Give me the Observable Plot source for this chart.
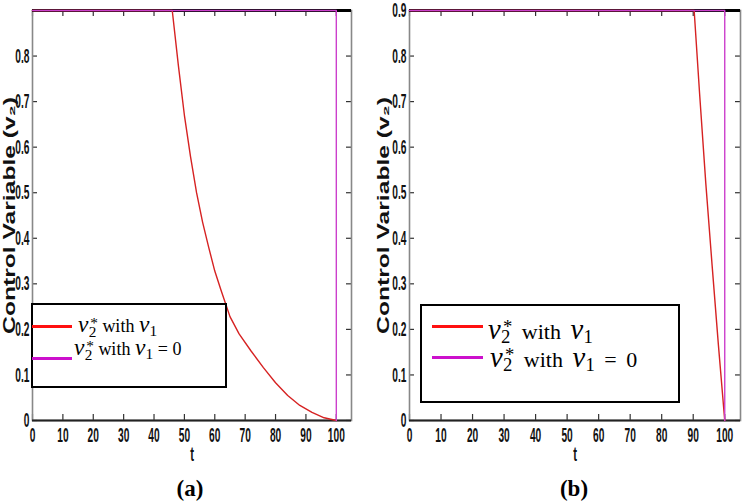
<!DOCTYPE html>
<html><head><meta charset="utf-8">
<script src="https://cdn.jsdelivr.net/npm/d3@7"></script>
<script src="https://cdn.jsdelivr.net/npm/@observablehq/plot@0.6"></script>
<style>
html,body{margin:0;padding:0;background:#fff;}
#root{position:relative;width:743px;height:502px;overflow:hidden;background:#fff;}
.panel{position:absolute;top:0;}
.legend{position:absolute;border:2px solid #000;box-sizing:border-box;background:#fff;font-family:"Liberation Serif","Times New Roman",serif;color:#000;}
.swatch{position:absolute;height:3px;}
.ltext{position:absolute;white-space:nowrap;line-height:1;}
.mv{font-style:italic;font-size:1.3em;line-height:0;}
.ss{display:inline-block;position:relative;width:0.62em;height:1em;font-size:0.85em;}
.ss .up{position:absolute;left:0.12em;top:-0.1em;line-height:1;}
.ss .dn{position:absolute;left:0.02em;top:0.46em;line-height:1;}
.lo{font-size:0.85em;vertical-align:-0.25em;line-height:0;margin-left:0.02em;}
.cap{position:absolute;font-family:"Liberation Serif","Times New Roman",serif;font-weight:bold;font-size:23px;line-height:23px;text-align:center;width:100px;}
</style></head>
<body><div id="root"></div>
<script>
// ---- data ----
const xTicks = [0, 10, 20, 30, 40, 50, 60, 70, 80, 90, 100];
const yTicksA = [0, 0.1, 0.2, 0.3, 0.4, 0.5, 0.6, 0.7, 0.8];
const yTicksB = [0, 0.1, 0.2, 0.3, 0.4, 0.5, 0.6, 0.7, 0.8, 0.9];
const xDomain = [0, 105];
const yDomain = [0, 0.9];
const seriesNames = ["v₂* with v₁", "v₂* with v₁ = 0"];
const xLabel = "t";
const yLabel = "Control Variable (v₂)";
const panelLabels = ["(a)", "(b)"];

// panel (a)
const tRedA = [0, 46, 48, 50, 52, 54, 56, 58, 60, 62, 65, 68, 72, 76, 80, 84, 88, 92, 96, 100];
const vRedA = [0.9, 0.9, 0.78, 0.67, 0.58, 0.50, 0.435, 0.38, 0.328, 0.287, 0.228, 0.19, 0.152, 0.116, 0.083, 0.055, 0.033, 0.018, 0.006, 0];
const tMagA = [0, 100, 100];
const vMagA = [0.9, 0.9, 0];
// panel (b)
const tRedB = [0, 90.3, 92, 94, 96, 98, 100];
const vRedB = [0.9, 0.9, 0.72, 0.52, 0.34, 0.165, 0];
const tMagB = [0, 100, 100];
const vMagB = [0.9, 0.9, 0];

// ---- styles ----
const lineColors = ["#d62222", "#cc40cc"];
const swatchColors = ["#ff1010", "#cc10cc"];

function rows(t, v, s) { return t.map((d, i) => ({t: d, v: v[i], series: s})); }

function stretchText(t, s) {
  const tr = t.getAttribute("transform");
  if (tr) t.setAttribute("transform", tr + " " + s);
  else {
    const x = +t.getAttribute("x") || 0, y = +t.getAttribute("y") || 0;
    t.removeAttribute("x"); t.removeAttribute("y");
    t.setAttribute("transform", `translate(${x},${y}) ${s}`);
  }
}

function panel({width, marginLeft, marginRight, data, yTicks, labelDx}) {
  const height = 470, marginTop = 10, marginBottom = 50;
  const pw = width - marginLeft - marginRight, ph = height - marginTop - marginBottom;
  const svg = Plot.plot({
    width, height, marginTop, marginBottom, marginLeft, marginRight,
    style: {fontFamily: "'Liberation Sans', Arial, sans-serif", fontSize: "15px", fontWeight: "bold", color: "#111", background: "#fff"},
    x: {domain: xDomain},
    y: {domain: yDomain},
    color: {domain: seriesNames, range: lineColors},
    marks: [
      Plot.tickX(xTicks, {x: d => d, insetTop: ph - 6, stroke: "#333", strokeWidth: 1.2}),
      Plot.tickX(xTicks, {x: d => d, insetBottom: ph - 6, stroke: "#333", strokeWidth: 1.2}),
      Plot.tickY(yTicks, {y: d => d, insetRight: pw - 5, stroke: "#333", strokeWidth: 1.2}),
      Plot.tickY(yTicks, {y: d => d, insetLeft: pw - 5, stroke: "#333", strokeWidth: 1.2}),
      Plot.frame({stroke: "#888", strokeWidth: 1.6}),
      Plot.ruleY([yDomain[1]], {stroke: "#000", strokeWidth: 3}),
      Plot.ruleY([yDomain[0]], {stroke: "#222", strokeWidth: 2.2}),
      Plot.line(data, {x: "t", y: "v", z: "series", stroke: "series", strokeWidth: 1.4}),
      Plot.axisX(xTicks, {tickSize: 0, tickPadding: 7, label: null, tickFormat: d => String(d)}),
      Plot.axisY(yTicks, {tickSize: 0, tickPadding: 3, label: null, tickFormat: d => String(d)}),
      Plot.text([xLabel], {frameAnchor: "bottom", dy: 40, text: d => d, fontSize: 15}),
      Plot.text([yLabel], {frameAnchor: "left", dx: labelDx, rotate: -90, textAnchor: "middle", text: d => d, fontSize: 17})
    ]
  });
  svg.querySelectorAll('g[aria-label="x-axis tick label"] text, g[aria-label="y-axis tick label"] text')
    .forEach(t => stretchText(t, "scale(0.68,1.38)"));
  svg.querySelectorAll("text").forEach(t => {
    if (t.textContent === xLabel) stretchText(t, "scale(0.75,1.4)");
    if (t.textContent === yLabel) stretchText(t, "scale(1.45,1)");
  });
  return svg;
}

function mathHTML(s) {
  return s.replace("v₂*", '<span class="mv">v</span><span class="ss"><span class="up">*</span><span class="dn">2</span></span>')
          .replace("v₁", '<span class="mv">v</span><span class="lo">1</span>');
}

function legend(root, box, rowsCfg, fontSize, wordSpacing) {
  const d = document.createElement("div");
  d.className = "legend";
  Object.assign(d.style, {left: box.left + "px", top: box.top + "px", width: box.width + "px", height: box.height + "px", fontSize: fontSize + "px", wordSpacing: wordSpacing + "px"});
  seriesNames.forEach((name, i) => {
    const r = rowsCfg[i];
    const sw = document.createElement("div");
    sw.className = "swatch";
    Object.assign(sw.style, {left: r.swL + "px", top: r.swT + "px", width: r.swW + "px", background: swatchColors[i]});
    d.appendChild(sw);
    const tx = document.createElement("div");
    tx.className = "ltext";
    Object.assign(tx.style, {left: r.tL + "px", top: r.tT + "px"});
    tx.innerHTML = mathHTML(name);
    d.appendChild(tx);
  });
  root.appendChild(d);
}

const root = document.getElementById("root");

const pa = document.createElement("div");
pa.className = "panel"; pa.style.left = "0px"; pa.style.width = "370px";
pa.appendChild(panel({
  width: 370, marginLeft: 32, marginRight: 19,
  data: [...rows(tRedA, vRedA, seriesNames[0]), ...rows(tMagA, vMagA, seriesNames[1])],
  yTicks: yTicksA, labelDx: -23
}));
root.appendChild(pa);

const pb = document.createElement("div");
pb.className = "panel"; pb.style.left = "370px"; pb.style.width = "373px";
pb.appendChild(panel({
  width: 373, marginLeft: 39, marginRight: 3,
  data: [...rows(tRedB, vRedB, seriesNames[0]), ...rows(tMagB, vMagB, seriesNames[1])],
  yTicks: yTicksB, labelDx: -26
}));
root.appendChild(pb);

legend(root, {left: 31, top: 303, width: 196, height: 85},
  [{swL: -1, swT: 19.5, swW: 40, tL: 45, tT: 12}, {swL: -1, swT: 51.5, swW: 40, tL: 41, tT: 35}], 18, 0);
legend(root, {left: 420, top: 304, width: 260, height: 99},
  [{swL: 10, swT: 18.5, swW: 51, tL: 66, tT: 13.5}, {swL: 10, swT: 50, swW: 51, tL: 68, tT: 41.5}], 22, 4);

[[panelLabels[0], 140], [panelLabels[1], 524]].forEach(([txt, left]) => {
  const c = document.createElement("div");
  c.className = "cap";
  c.style.left = left + "px"; c.style.top = "477px";
  c.textContent = txt;
  root.appendChild(c);
});
</script>
</body></html>
